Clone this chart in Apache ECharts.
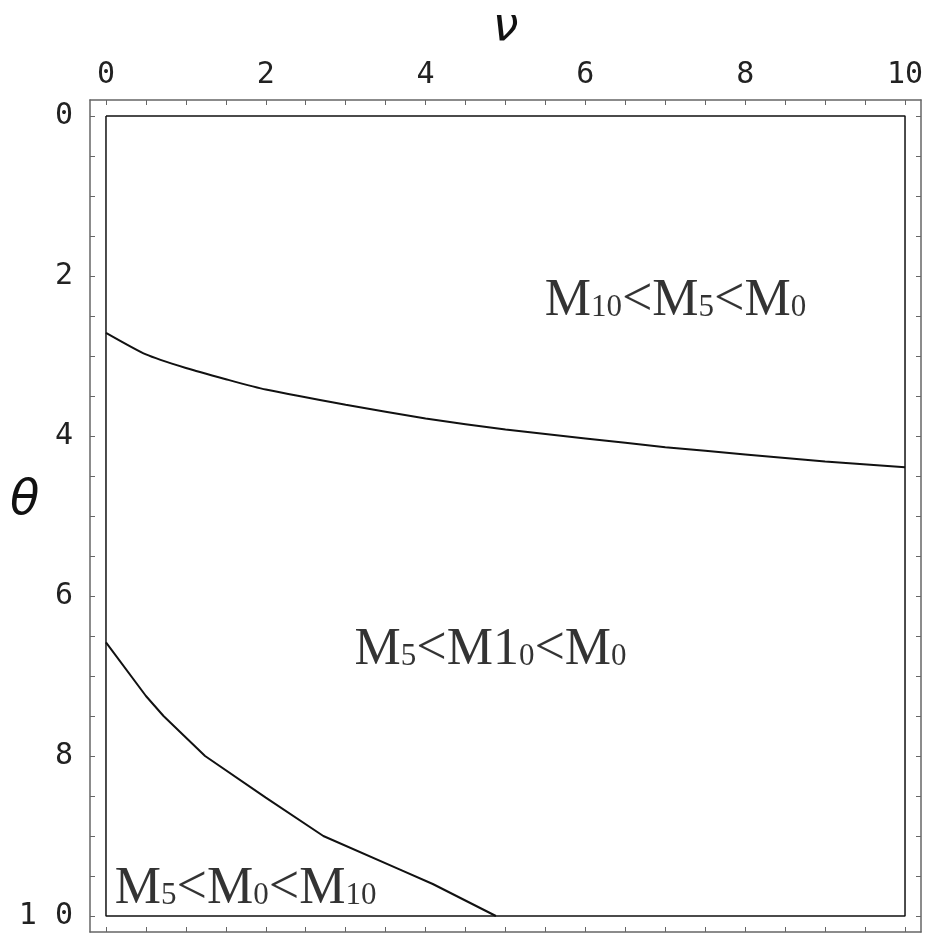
<!DOCTYPE html>
<html>
<head>
<meta charset="utf-8">
<script src="https://cdn.jsdelivr.net/npm/echarts@6/dist/echarts.min.js"></script>
<style>
  html, body { margin: 0; padding: 0; background: #fff; }
  #chart { width: 931px; height: 936px; }
</style>
</head>
<body>
<div id="chart"></div>
<script>
  // boundary curves (nu, theta)
  var upperNu = [0, 0.5, 1, 1.5, 2, 3, 4, 5, 6, 7, 8, 9, 10];
  var upperTheta = [2.71, 2.98, 3.15, 3.29, 3.42, 3.61, 3.78, 3.92, 4.03, 4.14, 4.23, 4.32, 4.39];
  var lowerNu = [0, 0.5, 0.72, 1.24, 2.0, 2.72, 3.68, 4.09, 4.88];
  var lowerTheta = [6.58, 7.25, 7.5, 8.0, 8.52, 9.0, 9.42, 9.6, 10.0];

  var axisRange = [-0.2, 10.2];
  var plotBox = [0, 10];
  var tickValues = [0, 0.5, 1, 1.5, 2, 2.5, 3, 3.5, 4, 4.5, 5, 5.5, 6, 6.5, 7, 7.5, 8, 8.5, 9, 9.5, 10];
  var labelValues = [0, 2, 4, 6, 8, 10];

  // region labels
  var regionText = [
    '{m|M}{s|10}{l|<}{m|M}{s|5}{l|<}{m|M}{s|0}',
    '{m|M}{s|5}{l|<}{m|M1}{s|0}{l|<}{m|M}{s|0}',
    '{m|M}{s|5}{l|<}{m|M}{s|0}{l|<}{m|M}{s|10}'
  ];
  var regionNu = [5.49, 3.11, 0.11];
  var regionTheta = [2.31, 6.67, 9.66];

  function zip(a, b) {
    var out = [];
    for (var i = 0; i < a.length; i++) out.push([a[i], b[i]]);
    return out;
  }

  var frameColor = '#666';
  var tickFont = { fontFamily: 'DejaVu Sans Mono', fontSize: 30, color: '#222' };

  function makeAxis(pos, withLabels, isY) {
    var ax = {
      type: 'value',
      position: pos,
      min: axisRange[0],
      max: axisRange[1],
      axisLine: { show: true, onZero: false, lineStyle: { color: frameColor, width: 1.5 } },
      axisTick: { show: true, inside: true, length: 5, customValues: tickValues, lineStyle: { color: frameColor, width: 1 } },
      axisLabel: {
        show: withLabels,
        customValues: labelValues,
        margin: isY ? 17 : 10,
        fontFamily: tickFont.fontFamily,
        fontSize: tickFont.fontSize,
        color: tickFont.color,
        formatter: function (v) { return (isY && v === 10) ? '1 0' : String(v); }
      },
      splitLine: { show: false }
    };
    if (isY) ax.inverse = true;
    return ax;
  }

  var chart = echarts.init(document.getElementById('chart'));

  var topAxis = makeAxis('top', true, false);
  topAxis.name = 'ν';
  topAxis.nameLocation = 'middle';
  topAxis.nameGap = 49;
  topAxis.nameMoveOverlap = false;
  topAxis.nameTextStyle = { fontFamily: 'DejaVu Sans', fontStyle: 'italic', fontSize: 46, color: '#111' };

  var richStyle = {
    m: { fontFamily: 'Liberation Serif', fontSize: 52, color: '#000', verticalAlign: 'bottom' },
    s: { fontFamily: 'Liberation Serif', fontSize: 31, color: '#000', verticalAlign: 'bottom', padding: [0, 0, 4, 0] },
    l: { fontFamily: 'Liberation Serif', fontSize: 54, color: '#000', verticalAlign: 'bottom' }
  };

  var regionData = [];
  for (var i = 0; i < regionText.length; i++) {
    regionData.push({ value: [regionNu[i], regionTheta[i]], label: { formatter: regionText[i] } });
  }

  var option = {
    animation: false,
    backgroundColor: '#fff',
    grid: { left: 90, right: 10, top: 100, bottom: 4, containLabel: false, outerBoundsMode: 'none' },
    xAxis: [topAxis, makeAxis('bottom', false, false)],
    yAxis: [makeAxis('left', true, true), makeAxis('right', false, true)],
    graphic: [{
      type: 'text',
      left: 10,
      top: 478,
      style: { text: 'θ', font: 'italic 48px "DejaVu Sans"', fill: '#111' }
    }],
    series: [
      {
        type: 'line',
        data: zip([plotBox[0], plotBox[1], plotBox[1], plotBox[0], plotBox[0]],
                  [plotBox[0], plotBox[0], plotBox[1], plotBox[1], plotBox[0]]),
        showSymbol: false,
        lineStyle: { color: '#111', width: 1.5 },
        silent: true
      },
      {
        type: 'line',
        data: zip(upperNu, upperTheta),
        showSymbol: false,
        smooth: 0.2,
        lineStyle: { color: '#111', width: 2 }
      },
      {
        type: 'line',
        data: zip(lowerNu, lowerTheta),
        showSymbol: false,
        lineStyle: { color: '#111', width: 2 }
      },
      {
        type: 'scatter',
        symbolSize: 0,
        data: regionData,
        label: {
          show: true,
          color: '#000',
          position: [0, 0],
          align: 'left',
          verticalAlign: 'middle',
          rich: richStyle
        }
      }
    ]
  };

  chart.setOption(option);
</script>
</body>
</html>
